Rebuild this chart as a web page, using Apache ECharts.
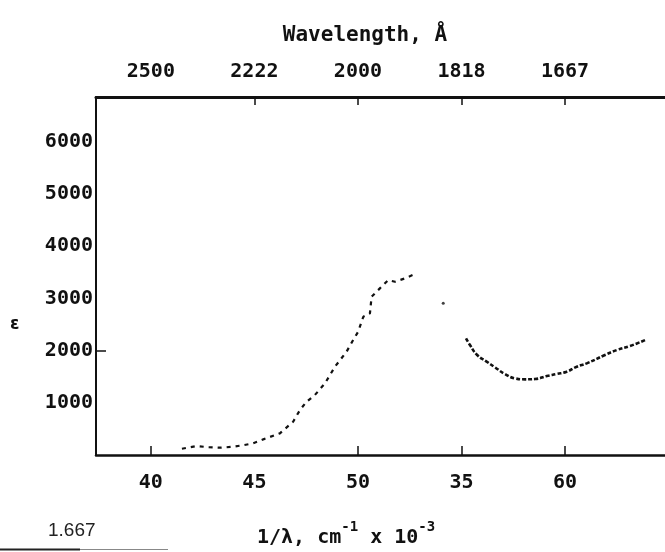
<!DOCTYPE html>
<html>
<head>
<meta charset="utf-8">
<script src="https://cdn.jsdelivr.net/npm/echarts@6/dist/echarts.min.js"></script>
<style>
  html, body { margin: 0; padding: 0; background: #fff; }
  #chart { width: 665px; height: 552px; }
</style>
</head>
<body>
<div id="chart"></div>
<script>
// Absorption spectrum: molar extinction coefficient vs wavenumber (cm^-1 x 10^-3)

// Rising band and its shoulder near 52 x 10^3 cm^-1
const riseWavenumber = [41.5, 42.2, 42.8, 43.4, 44.0, 44.5, 44.94, 45.43, 46.23, 46.87, 47.2, 47.52,
  47.92, 48.41, 48.89, 49.45, 49.77, 50.01, 50.26, 50.58, 50.66, 51.06, 51.46, 51.79, 52.27, 52.75];
const riseEpsilon = [120, 170, 150, 140, 160, 190, 224, 300, 415, 638, 862, 1021,
  1149, 1374, 1692, 1979, 2203, 2362, 2649, 2714, 3033, 3193, 3352, 3320, 3385, 3467];

// Isolated reading between the two traces
const loneWavenumber = [54.12];
const loneEpsilon = [2906];

// Trough and second rise at higher wavenumber
const dipWavenumber = [55.22, 55.41, 55.76, 56.22, 56.62, 57.1, 57.58, 58.07, 58.55, 59.12, 59.6,
  60.08, 60.57, 61.05, 61.93, 62.5, 63.14, 63.95];
const dipEpsilon = [2235, 2107, 1916, 1788, 1680, 1552, 1469, 1450, 1456, 1513, 1552,
  1596, 1692, 1756, 1916, 2011, 2088, 2216];

// Axis ticks and labels
const bottomTickValues = [40, 45, 50, 55, 60];
const bottomTickLabels = ['40', '45', '50', '35', '60'];
const bottomTickMarks = [40, 50, 55, 60];
const topTickLabels = ['2500', '2222', '2000', '1818', '1667'];
const topTickMarks = [45, 50, 55, 60];
const yTickValues = [1000, 2000, 3000, 4000, 5000, 6000];
const yTickMarks = [2000];

const X_MIN = 37.35, X_MAX = 64.83, Y_MAX = 6860;
const INK = '#111';
const MONO = "'DejaVu Sans Mono', 'Liberation Mono', monospace";

const pairs = (xs, ys) => xs.map((x, i) => [x, ys[i]]);

const labelStyle = {
  color: INK, fontFamily: MONO, fontWeight: 'bold', fontSize: 20
};

const chart = echarts.init(document.getElementById('chart'), null, { renderer: 'canvas' });

chart.setOption({
  backgroundColor: '#fff',
  animation: false,
  grid: { left: 96, right: 0, top: 97, bottom: 97 },
  title: {
    text: 'Wavelength, Å',
    left: 360, top: 20,
    textAlign: 'center',
    textStyle: { color: INK, fontFamily: MONO, fontWeight: 'bold', fontSize: 21 }
  },
  xAxis: [
    {
      type: 'value', position: 'bottom', min: X_MIN, max: X_MAX,
      axisLine: { lineStyle: { color: INK, width: 2.5 } },
      axisTick: { customValues: bottomTickMarks, inside: true, length: 9, lineStyle: { color: INK, width: 1.5 } },
      axisLabel: Object.assign({
        customValues: bottomTickValues, margin: 18,
        formatter: v => bottomTickLabels[bottomTickValues.indexOf(v)]
      }, labelStyle),
      splitLine: { show: false }
    },
    {
      type: 'value', position: 'top', min: X_MIN, max: X_MAX,
      axisLine: { lineStyle: { color: INK, width: 3 } },
      axisTick: { customValues: topTickMarks, inside: true, length: 8, lineStyle: { color: INK, width: 1.5 } },
      axisLabel: Object.assign({
        customValues: bottomTickValues, margin: 15,
        formatter: v => topTickLabels[bottomTickValues.indexOf(v)]
      }, labelStyle),
      splitLine: { show: false }
    }
  ],
  yAxis: {
    type: 'value', min: 0, max: Y_MAX,
    axisLine: { show: true, lineStyle: { color: INK, width: 2 } },
    axisTick: { show: true, customValues: yTickMarks, inside: true, length: 10, lineStyle: { color: INK, width: 1.5 } },
    axisLabel: Object.assign({ customValues: yTickValues, margin: 3, formatter: v => String(v) }, labelStyle),
    splitLine: { show: false }
  },
  series: [
    {
      type: 'line', xAxisIndex: 0, data: pairs(riseWavenumber, riseEpsilon),
      showSymbol: false, smooth: false,
      lineStyle: { color: INK, width: 2.2, type: [4, 5] }
    },
    {
      type: 'scatter', xAxisIndex: 0, data: pairs(loneWavenumber, loneEpsilon),
      symbolSize: 3, itemStyle: { color: INK }
    },
    {
      type: 'line', xAxisIndex: 0, data: pairs(dipWavenumber, dipEpsilon),
      showSymbol: false, smooth: true,
      lineStyle: { color: INK, width: 2.6, type: [4, 2] }
    }
  ],
  graphic: [
    {
      type: 'text', left: 10, top: 316,
      style: { text: 'ε', fill: INK, font: "bold 17px 'DejaVu Sans'" }
    },
    {
      type: 'text', left: 257, top: 520,
      style: {
        text: '{a|1/λ, cm}{s|-1}{a| x 10}{s|-3}',
        fill: INK,
        rich: {
          a: { fontFamily: MONO, fontWeight: 'bold', fontSize: 20, lineHeight: 28, verticalAlign: 'bottom' },
          s: { fontFamily: MONO, fontWeight: 'bold', fontSize: 14, lineHeight: 28, verticalAlign: 'top' }
        }
      }
    },
    {
      type: 'text', left: 48, top: 521,
      style: { text: '1.667', fill: '#222', font: "19px 'Liberation Sans'" }
    },
    {
      type: 'line', shape: { x1: 0, y1: 549.5, x2: 80, y2: 549.5 },
      style: { stroke: '#222', lineWidth: 2 }
    },
    {
      type: 'line', shape: { x1: 80, y1: 549.5, x2: 168, y2: 549.5 },
      style: { stroke: '#888', lineWidth: 1 }
    }
  ]
});
</script>
</body>
</html>
